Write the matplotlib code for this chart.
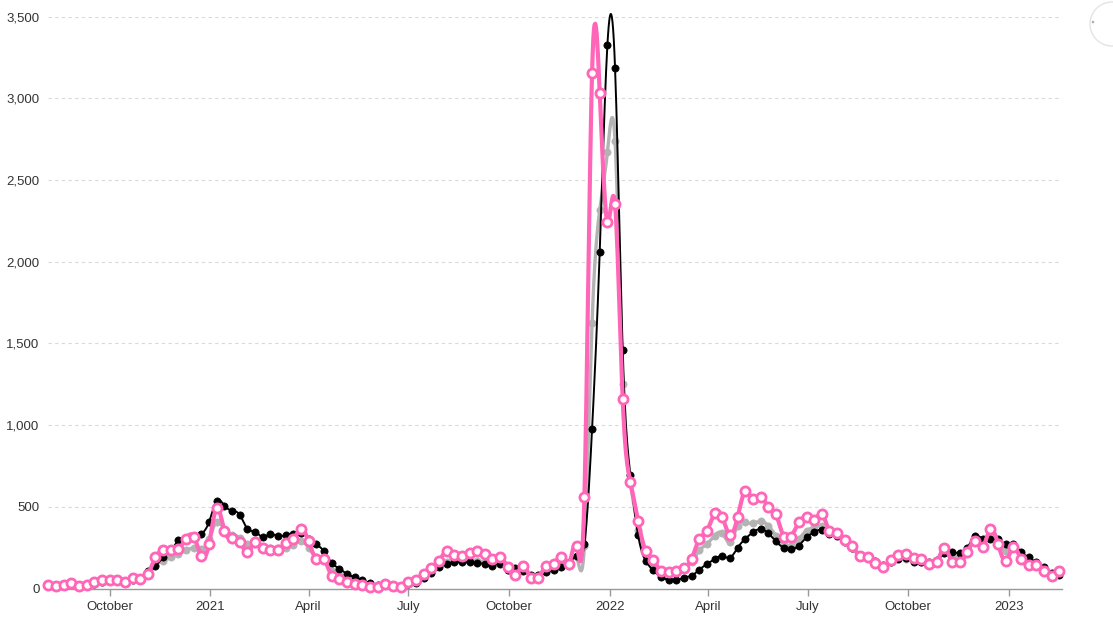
import numpy as np
import pandas as pd
import matplotlib
matplotlib.use("Agg")
import matplotlib.pyplot as plt
import matplotlib.dates as mdates
from matplotlib.patches import Circle

# ---- data (weekly, starting 2020-08-06) ----
start_date = "2020-08-06"

pink_values = [
    20, 16, 22, 33, 14, 22, 38, 50, 51, 51, 39, 62, 61, 88, 190, 234, 236, 241, 306, 318,
    198, 275, 495, 353, 307, 286, 222, 283, 250, 238, 236, 280, 301, 365, 288, 181, 178, 77, 58, 40,
    30, 20, 10, 8, 25, 15, 12, 39, 51, 88, 124, 169, 227, 202, 200, 216, 227, 212, 180, 190,
    129, 85, 137, 67, 67, 135, 150, 195, 150, 262, 560, 3156, 3035, 2244, 2353, 1158, 653, 415, 230, 172,
    108, 103, 105, 127, 182, 303, 354, 461, 438, 328, 435, 597, 547, 563, 500, 455, 318, 318, 405, 435,
    417, 459, 350, 338, 297, 260, 197, 194, 159, 131, 173, 202, 210, 188, 180, 147, 160, 245, 165, 163,
    221, 292, 255, 362, 274, 170, 251, 181, 141, 141, 107, 74, 110,
]

black_values = [
    15, 12, 18, 25, 14, 18, 30, 40, 44, 45, 40, 52, 58, 105, 140, 190, 230, 295, 300, 312,
    335, 408, 538, 507, 477, 451, 365, 348, 315, 334, 320, 327, 332, 342, 305, 270, 228, 157, 122, 88,
    70, 50, 34, 24, 22, 15, 12, 25, 35, 62, 92, 130, 150, 160, 160, 160, 155, 150, 140, 150,
    115, 125, 110, 80, 80, 100, 115, 130, 150, 200, 272, 975, 2062, 3326, 3188, 1460, 695, 328, 170, 111,
    70, 53, 51, 67, 79, 115, 150, 180, 200, 188, 249, 304, 344, 364, 338, 289, 249, 239, 263, 314,
    344, 360, 335, 320, 285, 245, 205, 195, 170, 145, 160, 180, 185, 160, 165, 160, 175, 215, 225, 215,
    250, 320, 305, 300, 300, 270, 270, 225, 190, 160, 130, 95, 80,
]

gray_values = [
    18, 14, 20, 30, 14, 20, 34, 45, 47, 48, 38, 56, 56, 80, 145, 170, 190, 210, 235, 245,
    240, 300, 410, 360, 330, 310, 270, 270, 255, 250, 245, 250, 265, 290, 250, 195, 175, 110, 85, 60,
    45, 35, 25, 15, 20, 15, 12, 30, 40, 70, 100, 140, 165, 170, 170, 172, 170, 160, 150, 155,
    115, 95, 115, 75, 75, 110, 125, 150, 140, 190, 260, 1628, 2315, 2670, 2742, 1250, 640, 360, 200, 132,
    100, 95, 100, 121, 162, 233, 273, 324, 338, 283, 385, 405, 399, 411, 385, 324, 273, 263, 304, 354,
    374, 380, 345, 325, 290, 245, 200, 195, 165, 140, 165, 185, 180, 170, 165, 150, 165, 220, 200, 200,
    230, 295, 275, 320, 280, 230, 255, 200, 165, 150, 120, 90, 90,
]

y_ticks = [0, 500, 1000, 1500, 2000, 2500, 3000, 3500]
x_tick_dates = ["2020-10-01", "2021-01-01", "2021-04-01", "2021-07-01", "2021-10-01",
                "2022-01-01", "2022-04-01", "2022-07-01", "2022-10-01", "2023-01-01"]
x_tick_labels = ["October", "2021", "April", "July", "October",
                 "2022", "April", "July", "October", "2023"]

# ---- helpers ----
def natural_spline(y, per=12):
    y = np.asarray(y, dtype=float)
    n = len(y)
    A = np.zeros((n, n))
    b = np.zeros(n)
    A[0, 0] = 1
    A[-1, -1] = 1
    for i in range(1, n - 1):
        A[i, i - 1] = 1
        A[i, i] = 4
        A[i, i + 1] = 1
        b[i] = 6 * (y[i - 1] - 2 * y[i] + y[i + 1])
    M = np.linalg.solve(A, b)
    ts, ys = [], []
    for i in range(n - 1):
        t = np.linspace(0, 1, per, endpoint=False)
        s = ((1 - t) * y[i] + t * y[i + 1]
             + ((1 - t) ** 3 - (1 - t)) * M[i] / 6
             + (t ** 3 - t) * M[i + 1] / 6)
        ts.append(i + t)
        ys.append(s)
    ts.append(np.array([n - 1.0]))
    ys.append(np.array([y[-1]]))
    return np.concatenate(ts), np.concatenate(ys)

n = len(pink_values)
dates = pd.date_range(start_date, periods=n, freq="7D")
x_pts = mdates.date2num(dates.to_pydatetime())
x0 = x_pts[0]

def to_x(t):
    return x0 + 7.0 * t

plt.rcParams["font.family"] = ["Liberation Sans", "DejaVu Sans"]

fig = plt.figure(figsize=(11.13, 6.18), dpi=100)
ax = fig.add_axes([48 / 1113, 29.5 / 618, (1062 - 48) / 1113, (588.5 - 16.7) / 618])

ax.set_ylim(0, 3500)
ax.set_xlim(x0 - 0.25, x_pts[-1] + 2.5)

# grid
for v in y_ticks[1:]:
    ax.axhline(v, color="#d9d9d9", lw=0.8, ls=(0, (3, 3)), zorder=0)

series = [
    (gray_values, "#b3b3b3", 2.4, "#b3b3b3", "#b3b3b3", 5.2, 0.5, 2),
    (black_values, "#000000", 1.4, "#000000", "#000000", 5.2, 0.5, 3),
    (pink_values, "#ff66b8", 3.0, "white", "#ff66b8", 6.6, 2.0, 4),
]
for vals, col, lw, mfc, mec, ms, mew, z in series:
    t, s = natural_spline(vals)
    ax.plot(to_x(t), s, color=col, lw=lw, zorder=z, clip_on=False,
            solid_capstyle="round", solid_joinstyle="round")
    ax.plot(x_pts, vals, ls="none", marker="o", ms=ms, mfc=mfc, mec=mec, mew=mew,
            zorder=z + 0.5, clip_on=False)

for side in ["top", "right", "left"]:
    ax.spines[side].set_visible(False)
ax.spines["bottom"].set_color("#999999")
ax.spines["bottom"].set_linewidth(1.0)

ax.set_yticks(y_ticks)
ax.set_yticklabels([f"{v:,}" for v in y_ticks])
ax.tick_params(axis="y", length=0, pad=6, labelsize=9.5, labelcolor="#333333")

tick_x = mdates.date2num(pd.to_datetime(x_tick_dates).to_pydatetime())
ax.set_xticks(tick_x)
ax.set_xticklabels(x_tick_labels)
ax.tick_params(axis="x", length=5, width=1, color="#999999", pad=4,
               labelsize=9.5, labelcolor="#333333")

# small UI button in top-right corner (pixel-based circle)
fig.patches.append(Circle((1112, 618 - 24), 22, transform=None,
                          facecolor="white", edgecolor="#e3e3e3", lw=1.0))
fig.patches.append(Circle((1093, 618 - 22), 1.3, transform=None,
                          facecolor="#b0b0b0", edgecolor="none"))

fig.savefig("out.png", dpi=100)
